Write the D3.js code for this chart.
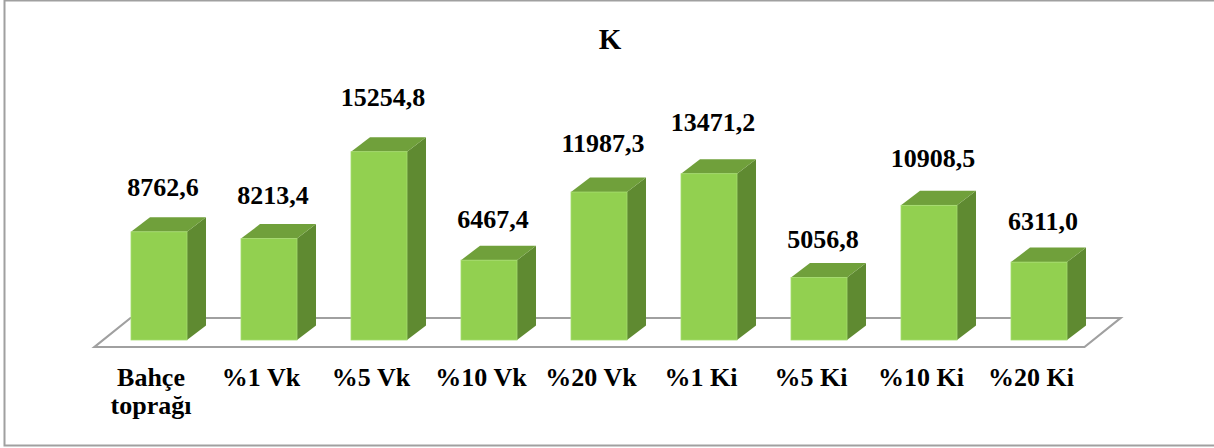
<!DOCTYPE html>
<html>
<head>
<meta charset="utf-8">
<script src="https://cdn.jsdelivr.net/npm/d3@7"></script>
<style>
  html, body { margin: 0; padding: 0; background: #fff; }
  svg { display: block; }
</style>
</head>
<body>
<svg id="chart" width="1214" height="448"></svg>
<script>
// K content per sample
const categories = ["Bahçe\ntoprağı", "%1 Vk", "%5 Vk", "%10 Vk", "%20 Vk", "%1 Ki", "%5 Ki", "%10 Ki", "%20 Ki"];
const values = [8762.6, 8213.4, 15254.8, 6467.4, 11987.3, 13471.2, 5056.8, 10908.5, 6311.0];
const title = "K";

const W = 1214, H = 448;
const FONT = '"Liberation Serif"';
const svg = d3.select("#chart");

// Turkish-style number format (decimal comma)
const trLocale = d3.formatLocale({ decimal: ",", thousands: "", grouping: [3], currency: ["", ""] });
const fmt = trLocale.format(".1f");

// Outer frame
svg.append("rect")
  .attr("x", 4.5).attr("y", 0.5)
  .attr("width", W + 10).attr("height", 445)
  .attr("fill", "#fff").attr("stroke", "#a0a0a0").attr("stroke-width", 2);

// Scales
const x = d3.scaleBand().domain(categories).range([104, 1094])
  .paddingInner(54 / 110).paddingOuter(27 / 110);
const y = d3.scaleLinear().domain([0, 16000]).range([340, 340 - 197.5]);
// Labels sit slightly higher on taller bars (perspective of the 3D view)
const yLabel = d3.scaleLinear().domain([0, 16000]).range([318, 318 - 222]);

const depthX = 19, depthY = -14.5;   // 3D extrusion offset of each bar
const floorShift = -9.5;             // floor front edge relative to bar fronts
const floorDX = 36, floorDY = -29;   // floor depth

// Floor
const [r0, r1] = x.range();
const fy = 347;
const floorPts = [
  [r0 + floorShift, fy],
  [r1 + floorShift, fy],
  [r1 + floorShift + floorDX, fy + floorDY],
  [r0 + floorShift + floorDX, fy + floorDY]
];
svg.append("polygon")
  .attr("points", floorPts.map(p => p.join(",")).join(" "))
  .attr("fill", "#fff").attr("stroke", "#a0a0a0").attr("stroke-width", 2.2);

// Bars
const data = categories.map((c, i) => ({ c, v: values[i] }));
const bw = x.bandwidth();
const bars = svg.append("g").selectAll("g").data(data).join("g");
const pts = a => a.map(p => p.join(",")).join(" ");

bars.each(function(d) {
  const g = d3.select(this);
  const x0 = x(d.c), x1 = x0 + bw;
  const yt = y(d.v), yb = y(0);
  // side face
  g.append("polygon")
    .attr("points", pts([[x1, yb], [x1 + depthX, yb + depthY], [x1 + depthX, yt + depthY], [x1, yt]]))
    .attr("fill", "#5f8a31");
  // top face
  g.append("polygon")
    .attr("points", pts([[x0, yt], [x0 + depthX, yt + depthY], [x1 + depthX, yt + depthY], [x1, yt]]))
    .attr("fill", "#70a03b");
  // front face
  g.append("rect")
    .attr("x", x0).attr("y", yt)
    .attr("width", bw).attr("height", yb - yt)
    .attr("fill", "#92d050").attr("stroke", "#a6dc6e").attr("stroke-width", 0.8);
});

// Value labels
svg.append("g").selectAll("text").data(data).join("text")
  .attr("x", d => x(d.c) + bw / 2 + 4)
  .attr("y", d => yLabel(d.v))
  .attr("text-anchor", "middle")
  .style("font-family", FONT)
  .style("font-weight", "bold")
  .style("font-size", "26px")
  .attr("fill", "#000")
  .text(d => fmt(d.v));

// Category labels
const catG = svg.append("g").selectAll("text").data(categories).join("text")
  .attr("x", c => x(c) + bw / 2 - 8)
  .attr("y", 386)
  .attr("text-anchor", "middle")
  .style("font-family", FONT)
  .style("font-weight", "bold")
  .style("font-size", "26px")
  .attr("fill", "#000");
catG.each(function(c) {
  const t = d3.select(this);
  c.split("\n").forEach((line, i) => {
    t.append("tspan")
      .attr("x", x(c) + bw / 2 - 8)
      .attr("dy", i === 0 ? 0 : 28)
      .text(line);
  });
});

// Title
svg.append("text")
  .attr("x", 610).attr("y", 49)
  .attr("text-anchor", "middle")
  .style("font-family", FONT)
  .style("font-weight", "bold")
  .style("font-size", "29px")
  .attr("fill", "#000")
  .text(title);
</script>
</body>
</html>
